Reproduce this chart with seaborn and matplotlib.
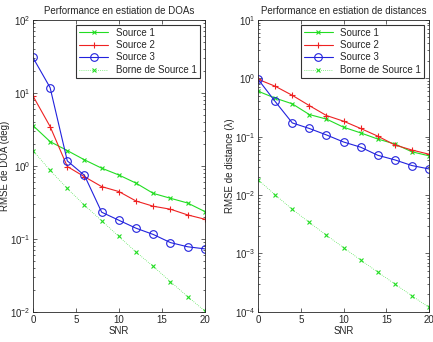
import numpy as np
import pandas as pd
import seaborn as sns
import matplotlib.pyplot as plt

# -------- Data --------
snr = [0, 2, 4, 6, 8, 10, 12, 14, 16, 18, 20]

doa_s1 = [3.57, 2.15, 1.62, 1.21, 0.93, 0.75, 0.58, 0.42, 0.36, 0.31, 0.237]
doa_s2 = [9.1, 3.46, 0.98, 0.71, 0.52, 0.445, 0.33, 0.28, 0.255, 0.213, 0.186]
doa_s3 = [30.5, 11.8, 1.17, 0.74, 0.232, 0.18, 0.14, 0.115, 0.089, 0.078, 0.073]
doa_bound = [1.62, 0.87, 0.49, 0.29, 0.177, 0.108, 0.066, 0.042, 0.026, 0.0162, 0.0103]

dist_s1 = [0.60, 0.457, 0.365, 0.239, 0.20, 0.145, 0.116, 0.091, 0.075, 0.055, 0.047]
dist_s2 = [0.96, 0.73, 0.51, 0.34, 0.23, 0.184, 0.138, 0.102, 0.072, 0.059, 0.050]
dist_s3 = [0.96, 0.40, 0.172, 0.138, 0.107, 0.081, 0.066, 0.048, 0.040, 0.032, 0.028]
dist_bound = [0.0183, 0.0101, 0.0057, 0.0034, 0.00205, 0.00126, 0.00077, 0.00048, 0.00030, 0.000188, 0.000119]

labels = ['Source 1', 'Source 2', 'Source 3', 'Borne de Source 1']

# -------- Style --------
sns.set_style('ticks', {'xtick.direction': 'in', 'ytick.direction': 'in'})
plt.rcParams['font.family'] = ['Liberation Sans', 'DejaVu Sans']
plt.rcParams['font.size'] = 7
plt.rcParams['axes.linewidth'] = 0.6
plt.rcParams['xtick.major.size'] = 3
plt.rcParams['ytick.major.size'] = 3
plt.rcParams['ytick.minor.size'] = 1.5

styles = [
    dict(color='#22dd22', marker='x', linestyle='-', markersize=3.5, mew=0.8, linewidth=0.8),
    dict(color='#ee2222', marker='+', linestyle='-', markersize=5, mew=0.8, linewidth=0.8),
    dict(color='#2222dd', marker='o', linestyle='-', markersize=5.5, mew=0.8, linewidth=0.8,
         markerfacecolor='none'),
    dict(color='#22dd22', marker='x', linestyle=(0, (1, 2)), markersize=3.5, mew=0.8,
         linewidth=0.5),
]

fig = plt.figure(figsize=(4.33, 3.42), dpi=100)
ax1 = fig.add_axes([0.076, 0.088, 0.397, 0.854])
ax2 = fig.add_axes([0.596, 0.088, 0.395, 0.854])


def draw(ax, series, title, ylabel, ylim):
    for vals, lab, st in zip(series, labels, styles):
        df = pd.DataFrame({'snr': snr, 'rmse': vals})
        ax.plot(df['snr'], df['rmse'], label=lab, **st)
    ax.set_yscale('log')
    ax.set_xlim(0, 20)
    ax.set_ylim(*ylim)
    ax.set_xticks([0, 5, 10, 15, 20])
    ax.set_title(title, fontsize=7, pad=4)
    ax.set_xlabel('SNR', fontsize=7, labelpad=1)
    ax.set_ylabel(ylabel, fontsize=7, labelpad=0)
    ax.tick_params(which='both', top=True, right=True, labelsize=7, width=0.5, pad=2)
    leg = ax.legend(loc='upper right', fontsize=7, frameon=True, fancybox=False,
                    edgecolor='black', borderpad=0.3, labelspacing=0.25,
                    handlelength=3.0, borderaxespad=0.5)
    leg.get_frame().set_linewidth(0.8)


draw(ax1, [doa_s1, doa_s2, doa_s3, doa_bound],
     'Performance en estiation de DOAs', 'RMSE de DOA (deg)', (1e-2, 1e2))
draw(ax2, [dist_s1, dist_s2, dist_s3, dist_bound],
     'Performance en estiation de distances', 'RMSE de distance (λ)', (1e-4, 1e1))

fig.savefig('out.png', dpi=100)
